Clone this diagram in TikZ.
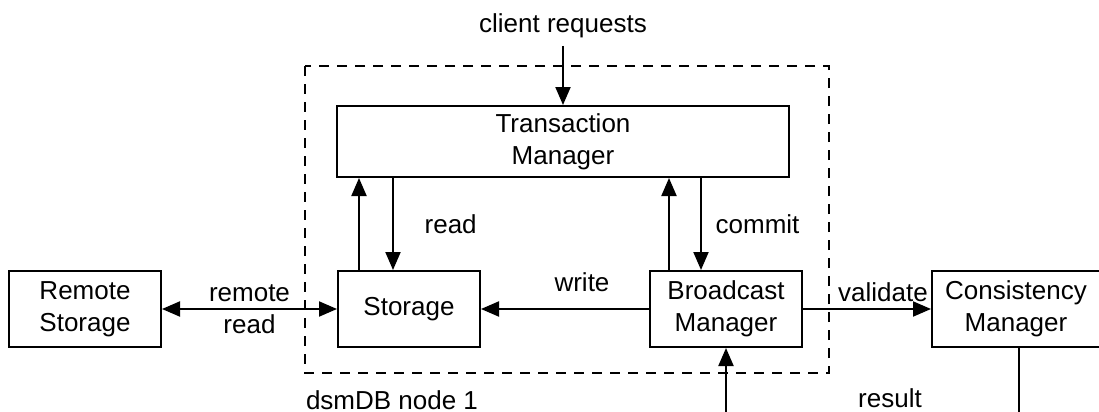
\documentclass[tikz,border=0pt]{standalone}
\usepackage{fontspec}
\setmainfont{Liberation Sans}
\usetikzlibrary{arrows.meta}

\begin{document}
\begin{tikzpicture}
      [x=0.5pt, y=-0.5pt, line width=1pt,
       every node/.style={font=\fontsize{13}{16}\selectfont, align=center},
       box/.style={draw, inner sep=0pt, minimum height=38pt},
       >={Triangle[length=9pt,width=7.5pt]}]
      \useasboundingbox (0,0) rectangle (1099,412);

      \node [box, minimum width=226pt, minimum height=35.5pt] (tm) at (563,141.5) {Transaction\\Manager};
      \node [box, minimum width=71pt] (storage) at (409,309) {Storage};
      \node [box, minimum width=76pt] (remote) at (85,309) {Remote\\Storage};
      \node [box, minimum width=76pt] (bcast) at (726,309) {Broadcast\\Manager};
      \node [box, minimum width=84pt] (cons) at (1016,309) {Consistency\\Manager};

      \node (client) at (563,26) {client requests};
      \node [anchor=west, inner sep=0pt] (dsm) at (305,400) {dsmDB node 1};
      \node (result) at (890,398) {result};
      \coordinate (bin) at (726,412);
      \coordinate (cout) at (1019,412);

      \draw [dash pattern=on 5pt off 4pt, line width=0.9pt] (305,66) rectangle (829,373);

      \draw [->] (client) -- (tm);
      \draw [->] ([xshift=-25pt]storage.north) -- ([xshift=-25pt]storage.north |- tm.south);
      \draw [->] ([xshift=-8pt]storage.north |- tm.south) -- ([xshift=-8pt]storage.north)
        node [midway, right=12pt] {read};
      \draw [->] ([xshift=-28.5pt]bcast.north) -- ([xshift=-28.5pt]bcast.north |- tm.south);
      \draw [->] ([xshift=-12.5pt]bcast.north |- tm.south) -- ([xshift=-12.5pt]bcast.north)
        node [midway, right=3.5pt] {commit};
      \draw [<->] (remote) -- (storage) node [midway] {remote\\read};
      \draw [->] (bcast) -- (storage) node [midway, above=5pt, xshift=8.5pt] {write};
      \draw [->] (bcast) -- (cons) node [midway, above, xshift=8pt] {validate};
      \draw [->] (bin) -- (bcast);
      \draw ([xshift=1.5pt]cons.south) -- (cout);
    \end{tikzpicture}
\end{document}
